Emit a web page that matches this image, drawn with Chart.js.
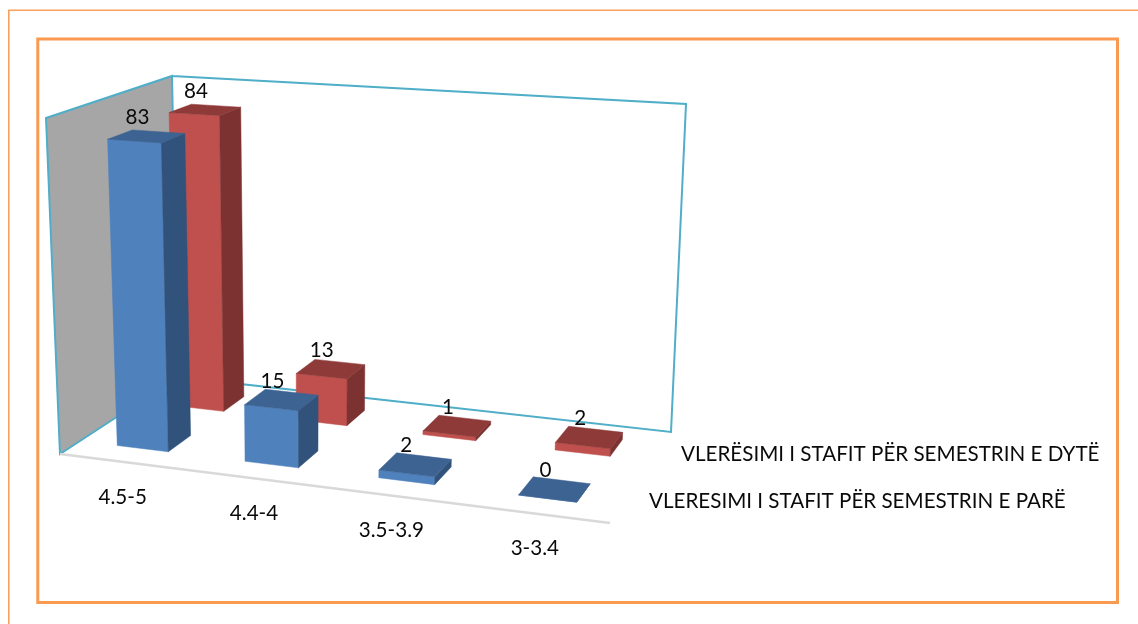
<!DOCTYPE html>
<html>
<head>
<meta charset="utf-8">
<style>
html,body{margin:0;padding:0;background:#fff;overflow:hidden}
#wrap{position:absolute;left:0;top:0;width:1138px;height:624px}
</style>
<script src="https://cdn.jsdelivr.net/npm/chart.js@4"></script>
</head>
<body>
<div id="wrap"><canvas id="c" width="1138" height="624"></canvas></div>
<script>
const categories = ["4.5-5", "4.4-4", "3.5-3.9", "3-3.4"];
const firstSemester = [83, 15, 2, 0];
const secondSemester = [84, 13, 1, 2];
const firstName = "VLERESIMI I STAFIT PËR SEMESTRIN E PARË";
const secondName = "VLERËSIMI I STAFIT PËR SEMESTRIN E DYTË";

const FONT = '20.6px Lato, "Open Sans", sans-serif';
const YMAX = 90;
// Corners of the 3D plot box on the page
const FB0 = [60, 454], FB1 = [610, 523], BB0 = [178, 377], BB1 = [671, 432];
const FT0 = [46, 118], FT1 = [630, 157], BT0 = [172, 76], BT1 = [686, 104];
// Depth slot of each series inside the box
const depth = [[0.17, 0.375], [0.68, 0.865]];
const faces = [
  {front: '#4F81BD', side: '#31527A', top: '#3D6392'},
  {front: '#C0504D', side: '#7B3230', top: '#8D3A38'}
];

function bil(a, b, c, d, u, z) {
  const f = i => a[i] + (b[i] - a[i]) * u + (c[i] - a[i]) * z + (a[i] - b[i] - c[i] + d[i]) * u * z;
  return [f(0), f(1)];
}
// t: 0..1 across the category scale, z: 0..1 front to back, h: 0..1 of the value scale
function proj(t, z, h) {
  const u = 0.0006 + 0.911 * t + 0.088 * t * t;
  const b = bil(FB0, FB1, BB0, BB1, u, z), p = bil(FT0, FT1, BT0, BT1, u, z);
  return [b[0] + (p[0] - b[0]) * h, b[1] + (p[1] - b[1]) * h];
}
function poly(ctx, pts, fill) {
  ctx.beginPath();
  pts.forEach((p, i) => i ? ctx.lineTo(p[0], p[1]) : ctx.moveTo(p[0], p[1]));
  ctx.closePath();
  ctx.fillStyle = fill;
  ctx.strokeStyle = fill;
  ctx.lineWidth = 0.5;
  ctx.fill();
  ctx.stroke();
}
function line(ctx, pts, color, w) {
  ctx.beginPath();
  pts.forEach((p, i) => i ? ctx.lineTo(p[0], p[1]) : ctx.moveTo(p[0], p[1]));
  ctx.strokeStyle = color;
  ctx.lineWidth = w;
  ctx.stroke();
}

const scene = {
  id: 'scene',
  beforeDatasetsDraw(chart) {
    const ctx = chart.ctx;
    ctx.save();
    // Page frames
    ctx.strokeStyle = '#F9A05C';
    ctx.lineWidth = 1.6;
    ctx.beginPath();
    ctx.moveTo(8.8, 630); ctx.lineTo(8.8, 10.3); ctx.lineTo(1145, 10.3);
    ctx.stroke();
    ctx.strokeStyle = '#F99A50';
    ctx.lineWidth = 3;
    ctx.strokeRect(37.8, 39, 1079.7, 563.5);
    // Walls and floor
    poly(ctx, [FT0, BT0, BB0, FB0], '#A6A6A6');
    line(ctx, [BB0, FB0, FT0, BT0, BB0, BB1, BT1, BT0], '#4FAEC8', 2);
    line(ctx, [FB0, FB1], '#D9D9D9', 2.5);
    // Category labels
    ctx.font = FONT;
    ctx.fillStyle = '#0a0a0a';
    ctx.textAlign = 'center';
    ctx.textBaseline = 'middle';
    const xs = chart.scales.x, area = chart.chartArea;
    categories.forEach((c, i) => {
      const t = (xs.getPixelForValue(i) - area.left) / (area.right - area.left);
      const p = proj(t, 0, 0);
      ctx.fillText(c, p[0] - 1, p[1] + 35);
    });
    // Series names
    ctx.textAlign = 'left';
    ctx.fillText(secondName, 681, 454);
    ctx.fillText(firstName, 649, 501);
    ctx.restore();
  },
  beforeDatasetDraw(chart, args) {
    const ctx = chart.ctx, area = chart.chartArea;
    const W = area.right - area.left, H = area.bottom - area.top;
    const col = faces[args.index], [z0, z1] = depth[args.index];
    ctx.save();
    args.meta.data.forEach(el => {
      const t0 = (el.x - el.width / 2 - area.left) / W, t1 = (el.x + el.width / 2 - area.left) / W;
      const h = (el.base - el.y) / H;
      const fbl = proj(t0, z0, 0), fbr = proj(t1, z0, 0), bbr = proj(t1, z1, 0);
      const ftl = proj(t0, z0, h), ftr = proj(t1, z0, h), btr = proj(t1, z1, h), btl = proj(t0, z1, h);
      poly(ctx, [fbl, fbr, ftr, ftl], col.front);
      poly(ctx, [fbr, bbr, btr, ftr], col.side);
      poly(ctx, [ftl, ftr, btr, btl], col.top);
    });
    ctx.restore();
    return false;
  },
  afterDatasetsDraw(chart) {
    const ctx = chart.ctx, area = chart.chartArea;
    const W = area.right - area.left, H = area.bottom - area.top;
    ctx.save();
    ctx.font = FONT;
    ctx.fillStyle = '#0a0a0a';
    ctx.textAlign = 'center';
    ctx.textBaseline = 'middle';
    chart.data.datasets.forEach((ds, di) => {
      const [z0, z1] = depth[di];
      chart.getDatasetMeta(di).data.forEach((el, i) => {
        const t = (el.x - area.left) / W, h = (el.base - el.y) / H;
        const p = proj(t, (z0 + z1) / 2, h);
        ctx.fillText(String(ds.data[i]), p[0] - 9, p[1] - 19);
      });
    });
    ctx.restore();
  }
};

new Chart(document.getElementById('c'), {
  type: 'bar',
  data: {
    labels: categories,
    datasets: [
      {label: firstName, data: firstSemester, backgroundColor: faces[0].front, grouped: false},
      {label: secondName, data: secondSemester, backgroundColor: faces[1].front, grouped: false}
    ]
  },
  options: {
    responsive: false,
    animation: false,
    devicePixelRatio: 1,
    barPercentage: 0.405,
    categoryPercentage: 1,
    layout: {padding: 0},
    plugins: {legend: {display: false}, tooltip: {enabled: false}, title: {display: false}},
    scales: {
      x: {display: false, grid: {display: false}},
      y: {display: false, min: 0, max: YMAX, grid: {display: false}}
    }
  },
  plugins: [scene]
});
</script>
</body>
</html>
